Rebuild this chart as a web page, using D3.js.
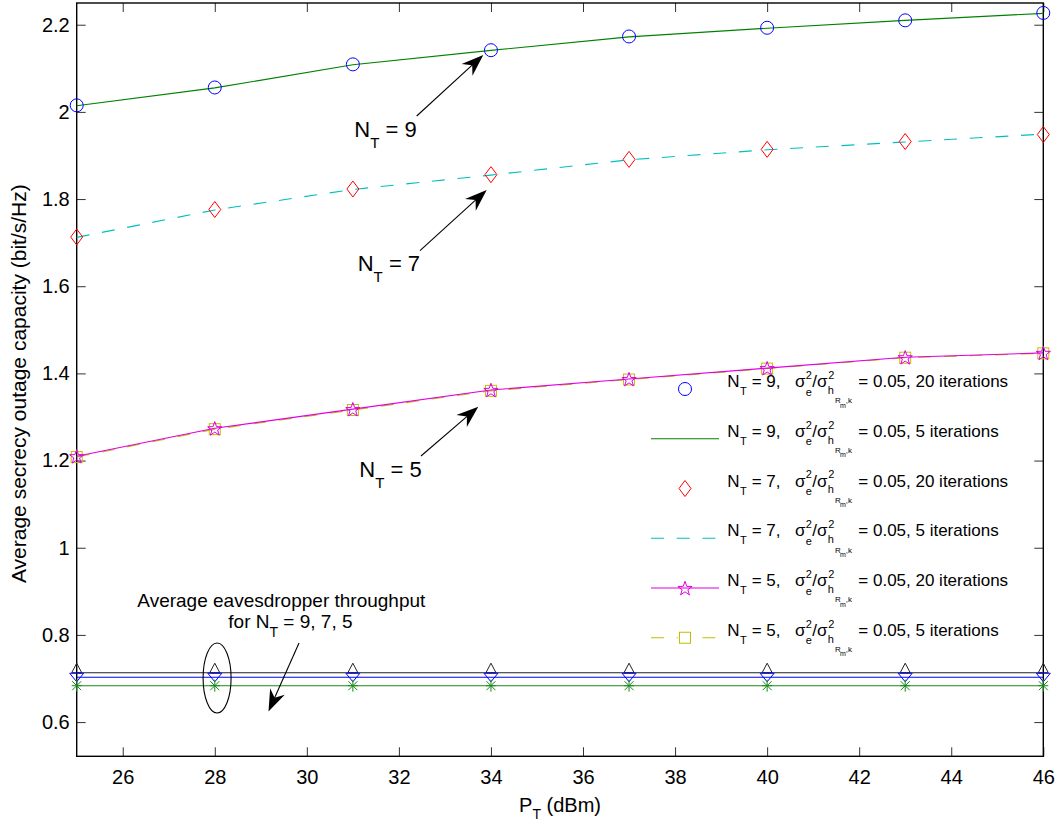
<!DOCTYPE html>
<html>
<head>
<meta charset="utf-8">
<script src="https://cdn.jsdelivr.net/npm/d3@7/dist/d3.min.js"></script>
<style>
body{margin:0;background:#fff}
text{font-family:"Liberation Sans",Arial,Helvetica,sans-serif;fill:#000}
</style>
</head>
<body>
<svg width="1058" height="833"></svg>
<script>
// transmit power (dBm)
var power = [25, 28, 31, 34, 37, 40, 43, 46];

// average secrecy outage capacity
var nt9it20 = [2.015, 2.056, 2.109, 2.1415, 2.173, 2.193, 2.210, 2.227];
var nt9it5  = [2.014, 2.055, 2.108, 2.141, 2.172, 2.192, 2.210, 2.226];
var nt7it20 = [1.713, 1.776, 1.823, 1.856, 1.891, 1.914, 1.932, 1.948];
var nt7it5  = [1.712, 1.775, 1.822, 1.855, 1.890, 1.913, 1.931, 1.949];
var nt5it20 = [1.210, 1.274, 1.318, 1.362, 1.387, 1.412, 1.437, 1.447];
var nt5it5  = [1.208, 1.272, 1.316, 1.360, 1.386, 1.411, 1.436, 1.446];

// eavesdropper throughput
var eve9 = [0.7133, 0.7133, 0.7133, 0.7133, 0.7133, 0.7133, 0.7133, 0.7133];
var eve7 = [0.7028, 0.7028, 0.7028, 0.7028, 0.7028, 0.7028, 0.7028, 0.7028];
var eve5 = [0.6835, 0.6835, 0.6835, 0.6835, 0.6835, 0.6835, 0.6835, 0.6835];

var xTicks = [26, 28, 30, 32, 34, 36, 38, 40, 42, 44, 46];
var yTicks = [0.6, 0.8, 1, 1.2, 1.4, 1.6, 1.8, 2, 2.2];
var nValues = ["9", "9", "7", "7", "5", "5"];
var iterLabels = ["20 iterations", "5 iterations", "20 iterations", "5 iterations", "20 iterations", "5 iterations"];

var svg = d3.select("svg");
var pL = 76.7, pR = 1043.3, pT = 3, pB = 756.3;

var x = d3.scaleLinear().domain([25, 46]).range([pL, pR]);
var y = d3.scaleLinear().domain([0.5215, 2.2498]).range([pB, pT]);

// axes box with inward ticks on all four sides
var fmt = function(d){ return String(+d.toFixed(1)); };
svg.append("g").attr("class", "ax").attr("transform", "translate(0," + pB + ")")
    .call(d3.axisBottom(x).tickValues(xTicks).tickSizeInner(-9).tickSizeOuter(0).tickPadding(14));
svg.append("g").attr("class", "ax").attr("transform", "translate(0," + pT + ")")
    .call(d3.axisTop(x).tickValues(xTicks).tickSizeInner(-9).tickSizeOuter(0).tickFormat(""));
svg.append("g").attr("class", "ax").attr("transform", "translate(" + pL + ",0)")
    .call(d3.axisLeft(y).tickValues(yTicks).tickSizeInner(-9).tickSizeOuter(0).tickPadding(7).tickFormat(fmt));
svg.append("g").attr("class", "ax").attr("transform", "translate(" + pR + ",0)")
    .call(d3.axisRight(y).tickValues(yTicks).tickSizeInner(-9).tickSizeOuter(0).tickFormat(""));
svg.selectAll(".ax .domain").remove();
svg.selectAll(".ax line").attr("stroke", "#333").attr("stroke-width", 1);
svg.selectAll(".ax text").style("font-size", "20px").attr("fill", "#000")
    .style("font-family", "'Liberation Sans',Arial,sans-serif");

svg.append("rect").attr("x", pL).attr("y", pT)
    .attr("width", pR - pL).attr("height", pB - pT)
    .attr("fill", "none").attr("stroke", "#000").attr("stroke-width", 1.4);

// axis titles
var xl = svg.append("text").attr("x", (pL + pR) / 2).attr("y", 812)
    .attr("text-anchor", "middle").style("font-size", "20px");
xl.append("tspan").text("P");
xl.append("tspan").attr("dy", 7).style("font-size", "14px").text("T");
xl.append("tspan").attr("dy", -7).text(" (dBm)");

svg.append("text")
    .attr("transform", "translate(26," + ((pT + pB) / 2 + 4) + ") rotate(-90)")
    .attr("text-anchor", "middle").style("font-size", "21px")
    .text("Average secrecy outage capacity (bit/s/Hz)");

// marker shapes
function circleM(g, c){ g.append("circle").attr("r", 6.5).attr("fill", "none").attr("stroke", c); }
function diamondM(g, c){ g.append("path").attr("d", "M0,-8L6,0L0,8L-6,0Z").attr("fill", "none").attr("stroke", c); }
function starM(g, c){
    var pts = [];
    for (var k = 0; k < 10; k++) {
        var r = k % 2 ? 3 : 7.5, a = -Math.PI / 2 + k * Math.PI / 5;
        pts.push([r * Math.cos(a), r * Math.sin(a) + 0.8]);
    }
    g.append("path").attr("d", "M" + pts.join("L") + "Z").attr("fill", "none").attr("stroke", c);
}
function squareM(g, c){ g.append("rect").attr("x", -5.5).attr("y", -5.5).attr("width", 11).attr("height", 11).attr("fill", "none").attr("stroke", c); }
function upTriM(g, c){ g.append("path").attr("d", "M0,-9.5L5,0L-5,0Z").attr("fill", "none").attr("stroke", c); }
function downTriM(g, c){ g.append("path").attr("d", "M-7,-4L7,-4L0,4.5Z").attr("fill", "none").attr("stroke", c); }
function starAstM(g, c){ g.append("path").attr("d", "M0,-6V6M-4.5,-4.5L4.5,4.5M-4.5,4.5L4.5,-4.5M-5,0H5").attr("fill", "none").attr("stroke", c); }

var line = d3.line().x(function(d){ return x(d[0]); }).y(function(d){ return y(d[1]); });

function drawLine(vals, color, dash){
    svg.append("path").datum(d3.zip(power, vals)).attr("d", line)
        .attr("fill", "none").attr("stroke", color).attr("stroke-width", 1.1)
        .attr("stroke-dasharray", dash || null);
}
function drawMarkers(vals, color, shape){
    svg.selectAll(null).data(d3.zip(power, vals)).enter().append("g")
        .attr("transform", function(d){ return "translate(" + x(d[0]) + "," + y(d[1]) + ")"; })
        .each(function(){ shape(d3.select(this), color); });
}

var cGreen = "#008000", cBlue = "#0000ff", cRed = "#ff0000", cCyan = "#00bfbf",
    cMag = "#e000e0", cYel = "#bfbf00";

drawLine(nt9it5, cGreen);
drawMarkers(nt9it20, cBlue, circleM);
drawLine(nt7it5, cCyan, "13,12.7");
drawMarkers(nt7it20, cRed, diamondM);
drawLine(nt5it5, cYel, "13,12.7");
drawMarkers(nt5it5, cYel, squareM);
drawLine(nt5it20, cMag);
drawMarkers(nt5it20, cMag, starM);

drawLine(eve9, "#222");
drawMarkers(eve9, "#222", upTriM);
drawLine(eve7, cBlue);
drawMarkers(eve7, cBlue, downTriM);
drawLine(eve5, "#1a8a1a");
drawMarkers(eve5, "#1a8a1a", starAstM);

// legend (no box)
var legendItems = [
    {marker: circleM, color: cBlue},
    {line: true, color: cGreen},
    {marker: diamondM, color: cRed},
    {line: true, dash: "13,12.7", color: cCyan},
    {line: true, marker: starM, color: cMag},
    {line: true, dash: "13,12.7", marker: squareM, color: cYel}
];
legendItems.forEach(function(it, i){
    var yc = 389 + 49.75 * i, b = yc - 1.8, x0 = 727.3;
    if (it.line) {
        svg.append("line").attr("x1", 651).attr("x2", 719).attr("y1", yc).attr("y2", yc)
            .attr("stroke", it.color).attr("stroke-width", 1.1)
            .attr("stroke-dasharray", it.dash || null);
    }
    if (it.marker) {
        var g = svg.append("g").attr("transform", "translate(685," + yc + ")");
        if (it.dash) g.append("rect").attr("x", -7).attr("y", -7).attr("width", 14).attr("height", 14).attr("fill", "#fff");
        it.marker(g, it.color);
    }
    var parts = [
        ["N", 0, 0, 17], ["T", 12.7, 8, 11], ["= " + nValues[i] + ",", 24.4, 0, 17],
        ["\u03c3", 67.7, 0, 17], ["2", 78.4, -8.4, 11], ["e", 78.4, 8.3, 11],
        ["/\u03c3", 85, 0, 17], ["2", 101, -8.4, 11], ["h", 100.4, 6.7, 11],
        ["R", 107.7, 16.2, 8], ["m", 112.7, 20.5, 7], [",k", 118.4, 16.2, 8],
        ["= 0.05, " + iterLabels[i], 131, 0, 17]
    ];
    parts.forEach(function(p){
        svg.append("text").attr("x", x0 + p[1]).attr("y", b + p[2])
            .style("font-size", p[3] + "px").text(p[0]);
    });
});

// annotations, placed in data units
var arrows = [
    {from: [32.387, 1.9905], to: [33.833, 2.1305]},
    {from: [32.458, 1.6815], to: [33.907, 1.8208]},
    {from: [32.480, 1.2105], to: [33.725, 1.3236]},
    {from: [29.830, 0.7814], to: [29.167, 0.6243]}
];
arrows.forEach(function(a){
    var x1 = x(a.from[0]), y1 = y(a.from[1]), x2 = x(a.to[0]), y2 = y(a.to[1]);
    var len = Math.hypot(x2 - x1, y2 - y1), ux = (x2 - x1) / len, uy = (y2 - y1) / len;
    var px = -uy, py = ux, L = 22, W = 8, Lb = 15;
    svg.append("line").attr("x1", x1).attr("y1", y1).attr("x2", x2 - ux * 14).attr("y2", y2 - uy * 14)
        .attr("stroke", "#000").attr("stroke-width", 1.1);
    svg.append("path").attr("d",
        "M" + x2 + "," + y2 +
        "L" + (x2 - ux * L + px * W) + "," + (y2 - uy * L + py * W) +
        "L" + (x2 - ux * Lb) + "," + (y2 - uy * Lb) +
        "L" + (x2 - ux * L - px * W) + "," + (y2 - uy * L - py * W) + "Z")
        .attr("fill", "#000");
});

var ntLabels = [
    {n: "9", at: [31.031, 1.9417]},
    {n: "7", at: [31.105, 1.6349]},
    {n: "5", at: [31.140, 1.1630]}
];
ntLabels.forEach(function(l){
    var t = svg.append("text").attr("x", x(l.at[0])).attr("y", y(l.at[1])).style("font-size", "22px");
    t.append("tspan").text("N");
    t.append("tspan").attr("dy", 11).style("font-size", "15px").text("T");
    t.append("tspan").attr("dy", -11).text(" = " + l.n);
});

svg.append("text").attr("x", x(26.317)).attr("y", y(0.8647)).style("font-size", "19px")
    .text("Average eavesdropper throughput");
var t2 = svg.append("text").attr("x", x(28.294)).attr("y", y(0.8152)).style("font-size", "19px");
t2.append("tspan").text("for N");
t2.append("tspan").attr("dy", 9).style("font-size", "14px").text("T");
t2.append("tspan").attr("dy", -9).text(" = 9, 7, 5");

svg.append("ellipse").attr("cx", x(28.05)).attr("cy", y(0.7011))
    .attr("rx", 14).attr("ry", 35).attr("fill", "none").attr("stroke", "#000").attr("stroke-width", 1.1);
</script>
</body>
</html>
